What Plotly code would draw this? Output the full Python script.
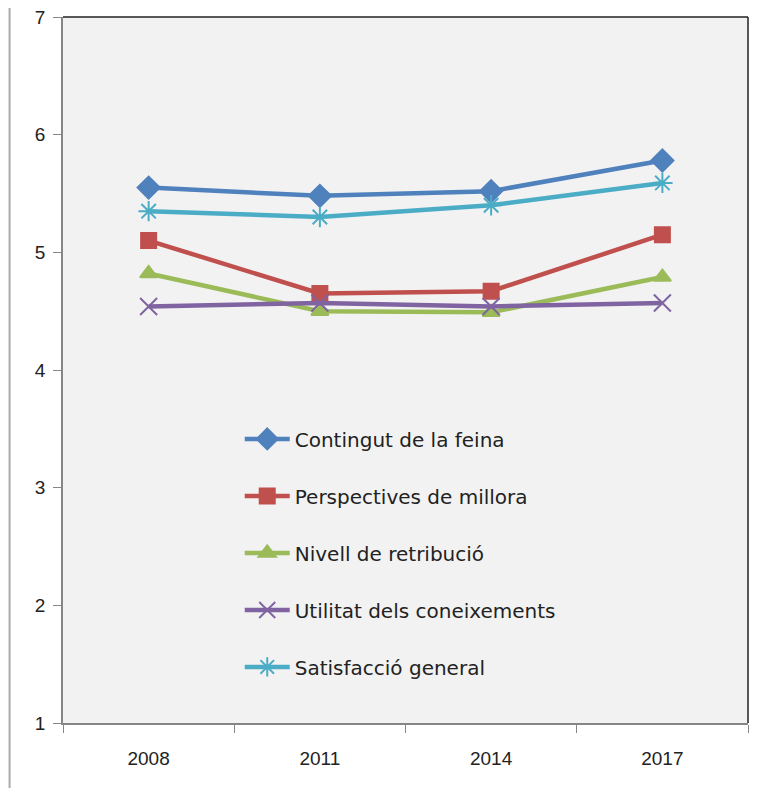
import plotly.graph_objects as go

years = ["2008", "2011", "2014", "2017"]
contingut = [5.55, 5.48, 5.52, 5.78]
perspectives = [5.10, 4.65, 4.67, 5.15]
nivell = [4.82, 4.50, 4.49, 4.79]
utilitat = [4.54, 4.57, 4.54, 4.57]
satisfaccio = [5.35, 5.30, 5.40, 5.59]

names = ["Contingut de la feina", "Perspectives de millora", "Nivell de retribució",
         "Utilitat dels coneixements", "Satisfacció general"]
series = [contingut, perspectives, nivell, utilitat, satisfaccio]
colors = ["#4F81BD", "#C0504D", "#9BBB59", "#8064A2", "#4BACC6"]
symbols = ["diamond", "square", "triangle-up", "x-thin-open", "asterisk-open"]
sizes = [17, 15, 15, 17, 17]

fig = go.Figure()
for i, (n, s) in enumerate(zip(names, series)):
    fig.add_trace(go.Scatter(
        x=years, y=s, name=n, mode="lines+markers",
        legendgroup=str(i),
        line=dict(color=colors[i], width=4.5),
        marker=dict(symbol=symbols[i], size=sizes[i], color=colors[i],
                    line=dict(color=colors[i], width=2)),
    ))

fig.update_layout(
    width=772, height=788,
    margin=dict(l=55, r=32, t=9, b=73, autoexpand=False),
    paper_bgcolor="white",
    plot_bgcolor="#f2f2f2",
    font=dict(family="Liberation Sans, Arial", size=19, color="#222"),
    showlegend=True,
    legend=dict(x=0.258, y=0.43, xanchor="left", yanchor="top",
                bgcolor="rgba(0,0,0,0)", tracegroupgap=28, itemwidth=45,
                traceorder="grouped", font=dict(family="DejaVu Sans", size=20)),
    xaxis=dict(type="category", range=[-0.5, 3.5], showgrid=False, automargin=False,
               showline=True, linecolor="#868686", linewidth=1.5,
               ticks="outside", tickson="boundaries", ticklen=8, tickcolor="#868686",
               tickfont=dict(size=19), ticklabelstandoff=17, zeroline=False),
    yaxis=dict(range=[1, 7], dtick=1, showgrid=False, automargin=False,
               showline=True, linecolor="#868686", linewidth=1.5,
               ticks="outside", ticklen=8, tickcolor="#868686",
               tickfont=dict(size=19), ticklabelstandoff=4, zeroline=False,
               ticklabeloverflow="allow"),
    shapes=[
        dict(type="line", xref="paper", yref="paper", x0=0, x1=1, y0=1, y1=1,
             line=dict(color="#222", width=1.5)),
        dict(type="line", xref="paper", yref="paper", x0=1, x1=1, y0=0, y1=1,
             line=dict(color="#222", width=1.5)),
        dict(type="line", xref="paper", yref="paper", x0=-0.078, x1=-0.078, y0=-0.092, y1=1.03,
             line=dict(color="#aaaaaa", width=2)),
    ],
)

fig.write_html("out.html")
